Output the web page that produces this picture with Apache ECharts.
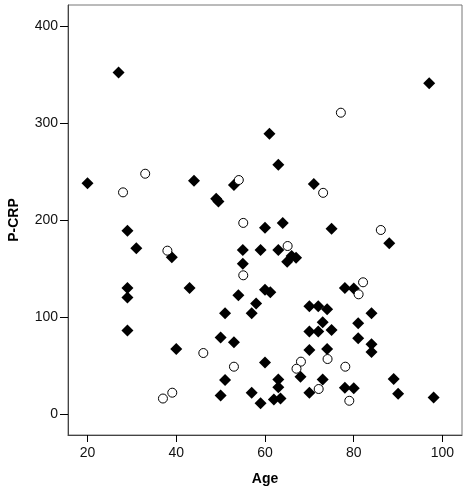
<!DOCTYPE html>
<html>
<head>
<meta charset="utf-8">
<script src="https://cdn.jsdelivr.net/npm/echarts@6/dist/echarts.min.js"></script>
<style>
    html, body { margin: 0; padding: 0; background: #fff; }
    #chart { width: 469px; height: 488px; }
</style>
</head>
<body>
<div id="chart"></div>
<script>
// filled diamonds
var diamondAge = [20, 27, 97, 98, 61, 63, 44, 53, 49, 49.5, 60, 29, 31, 39, 55, 59, 55, 29, 43, 29,
    54, 60, 61.2, 71, 64, 75, 88, 63, 65, 66, 67, 78, 80, 40, 50, 53, 51, 58, 57, 60,
    51, 50, 57, 59, 29, 70, 72, 74, 84, 73, 81, 70, 72, 75, 81, 84, 84, 70, 74, 68,
    63, 63, 62, 63.5, 73, 70, 78, 80, 89, 90];
var diamondCrp = [238, 352, 341, 17, 289, 257, 240.5, 236, 222, 219, 192, 189, 171, 161.5, 169, 169, 155, 130, 130, 120,
    122.5, 128, 125.5, 237, 197, 191, 176, 169, 157, 163, 161, 130, 129.5, 67, 79, 74, 104, 114, 104, 53,
    35, 19, 22, 11, 86, 111, 111, 108, 104, 94.5, 93.5, 85, 85, 86.6, 78, 72, 64, 66, 67, 38.5,
    35.7, 27.5, 15, 16, 35.7, 22, 27, 26.5, 36, 21];

// open circles
var circleAge = [33, 28, 54.1, 55.1, 38, 55.1, 73.1, 86.1, 65.1, 82.1, 81.1, 46.1, 53, 39.1, 37,
    74.1, 68.1, 67.1, 78.1, 72.1, 79, 77.1];
var circleCrp = [247.7, 228.5, 241.2, 197, 168.4, 143, 228, 189.7, 173.2, 135.8, 123.4, 62.9, 48.8, 22, 16,
    56.7, 54, 46.7, 48.8, 25.8, 13.7, 310.6];

var xTicks = [20, 40, 60, 80, 100];
var yTicks = [0, 100, 200, 300, 400];

function zip(a, b) {
    var res = [];
    for (var i = 0; i < a.length; i++) {
        res.push([a[i], b[i]]);
    }
    return res;
}

var myChart = echarts.init(document.getElementById('chart'));

var font = 'Liberation Sans, Arial, sans-serif';

var option = {
    backgroundColor: '#fff',
    animation: false,
    grid: {
        left: 68, top: 5, right: 7, bottom: 53,
        outerBoundsMode: 'none',
        containLabel: false,
        show: true,
        borderColor: '#777',
        borderWidth: 1
    },
    xAxis: {
        type: 'value',
        min: 15.6,
        max: 104.4,
        name: 'Age',
        nameLocation: 'middle',
        nameGap: 37,
        nameTextStyle: { fontFamily: font, fontSize: 14, fontWeight: 'bold', color: '#000' },
        splitLine: { show: false },
        axisLine: { onZero: false, lineStyle: { color: '#444' } },
        axisTick: { customValues: xTicks, length: 7, lineStyle: { color: '#000' } },
        axisLabel: { customValues: xTicks, margin: 11, fontFamily: font, fontSize: 14, color: '#111' }
    },
    yAxis: {
        type: 'value',
        min: -21.6,
        max: 421.6,
        name: 'P-CRP',
        nameLocation: 'middle',
        nameGap: 47,
        nameTextStyle: { fontFamily: font, fontSize: 14, fontWeight: 'bold', color: '#000' },
        splitLine: { show: false },
        axisLine: { show: true, onZero: false, lineStyle: { color: '#444' } },
        axisTick: { show: true, customValues: yTicks, length: 8, lineStyle: { color: '#000' } },
        axisLabel: { customValues: yTicks, margin: 10, fontFamily: font, fontSize: 14, color: '#111' }
    },
    series: [
        {
            name: 'diamond',
            type: 'scatter',
            symbol: 'diamond',
            symbolSize: 12,
            itemStyle: { color: '#000', opacity: 1 },
            data: zip(diamondAge, diamondCrp)
        },
        {
            name: 'circle',
            type: 'scatter',
            symbol: 'circle',
            symbolSize: 9,
            itemStyle: { color: '#fff', borderColor: '#000', borderWidth: 1, opacity: 1 },
            data: zip(circleAge, circleCrp)
        }
    ]
};

myChart.setOption(option);
</script>
</body>
</html>
